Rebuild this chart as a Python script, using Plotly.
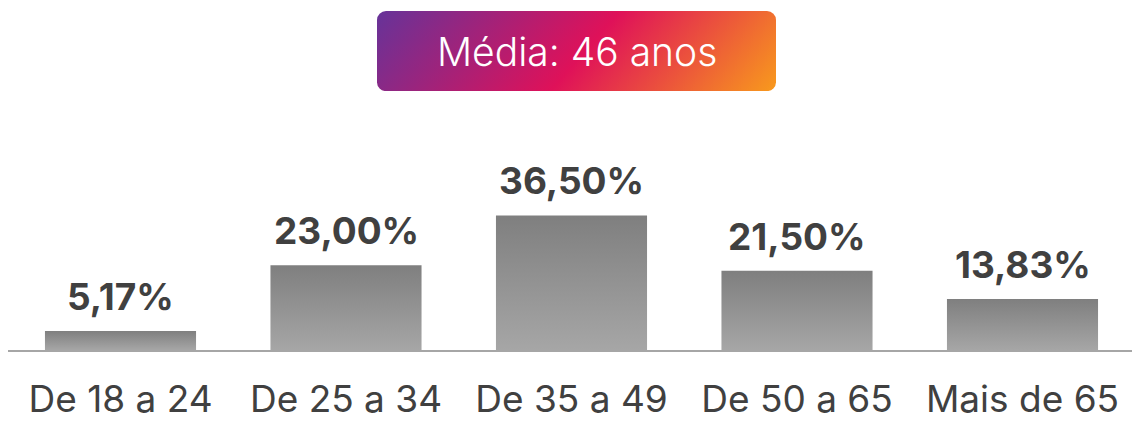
import plotly.graph_objects as go

categories = ["De 18 a 24", "De 25 a 34", "De 35 a 49", "De 50 a 65", "Mais de 65"]
values = [5.17, 23.00, 36.50, 21.50, 13.83]
value_labels = ["5,17%", "23,00%", "36,50%", "21,50%", "13,83%"]
title_text = "Média: 46 anos"

W, H = 1132, 421
ML, MR, MT, MB = 8, 0, 100, 68
half = 0.335
px_per_unit = 3.73
plot_h = H - MT - MB
ymax = plot_h / px_per_unit
plot_w = W - ML - MR
cat_px = 225.5
first_center_px = 120.5
x0 = -(first_center_px - ML) / cat_px
x1 = x0 + plot_w / cat_px

fig = go.Figure()
for i, v in enumerate(values):
    fig.add_trace(go.Scatter(
        x=[i - half, i - half, i + half, i + half, i - half],
        y=[0, v, v, 0, 0],
        mode="lines", line=dict(width=0), fill="toself",
        fillgradient=dict(type="vertical",
                          colorscale=[[0, "#a6a6a6"], [1, "#7f7f7f"]]),
        hoverinfo="skip", showlegend=False,
    ))

for i, (v, lab) in enumerate(zip(values, value_labels)):
    fig.add_annotation(
        x=i, y=v, xref="x", yref="y", text=lab, showarrow=False,
        xanchor="center", yanchor="bottom", yshift=10,
        font=dict(family="Inter", size=37, color="#404040", weight="bold"),
    )

def px_x(p):
    return (p - ML) / plot_w
def px_y(p):
    return (H - MB - p) / plot_h

svg = ("<svg xmlns='http://www.w3.org/2000/svg' width='399' height='81' viewBox='0 0 399 81'>"
       "<defs><linearGradient id='g' gradientUnits='userSpaceOnUse' x1='0' y1='0' x2='269' y2='231'>"
       "<stop offset='0' stop-color='%23663399'/>"
       "<stop offset='0.52' stop-color='%23df1159'/>"
       "<stop offset='1' stop-color='%23f8991d'/>"
       "</linearGradient></defs>"
       "<rect x='0' y='0' width='399' height='81' rx='9' ry='9' fill='url(%23g)'/></svg>")
src = "data:image/svg+xml;charset=utf-8," + svg.replace("<", "%3C").replace(">", "%3E").replace(" ", "%20")

fig.add_layout_image(dict(
    source=src, xref="paper", yref="paper",
    x=px_x(377), y=px_y(10), sizex=399 / plot_w, sizey=81 / plot_h,
    xanchor="left", yanchor="top", sizing="stretch", layer="above",
))
fig.add_annotation(
    x=px_x(576.5), y=px_y(51), xref="paper", yref="paper",
    text=title_text, showarrow=False, xanchor="center", yanchor="middle",
    font=dict(family="Inter", size=39, color="white", weight=300),
)

fig.update_layout(
    width=W, height=H,
    margin=dict(l=ML, r=MR, t=MT, b=MB),
    paper_bgcolor="white", plot_bgcolor="white",
    xaxis=dict(
        range=[x0, x1],
        tickmode="array", tickvals=list(range(len(categories))), ticktext=categories,
        tickfont=dict(family="Inter", size=37, color="#404040"),
        showgrid=False, zeroline=False,
        showline=True, linecolor="#a6a6a6", linewidth=2,
        ticks="outside", ticklen=16, tickcolor="rgba(0,0,0,0)",
        fixedrange=True,
    ),
    yaxis=dict(range=[0, ymax], visible=False, fixedrange=True),
)

fig.write_html("out.html")
